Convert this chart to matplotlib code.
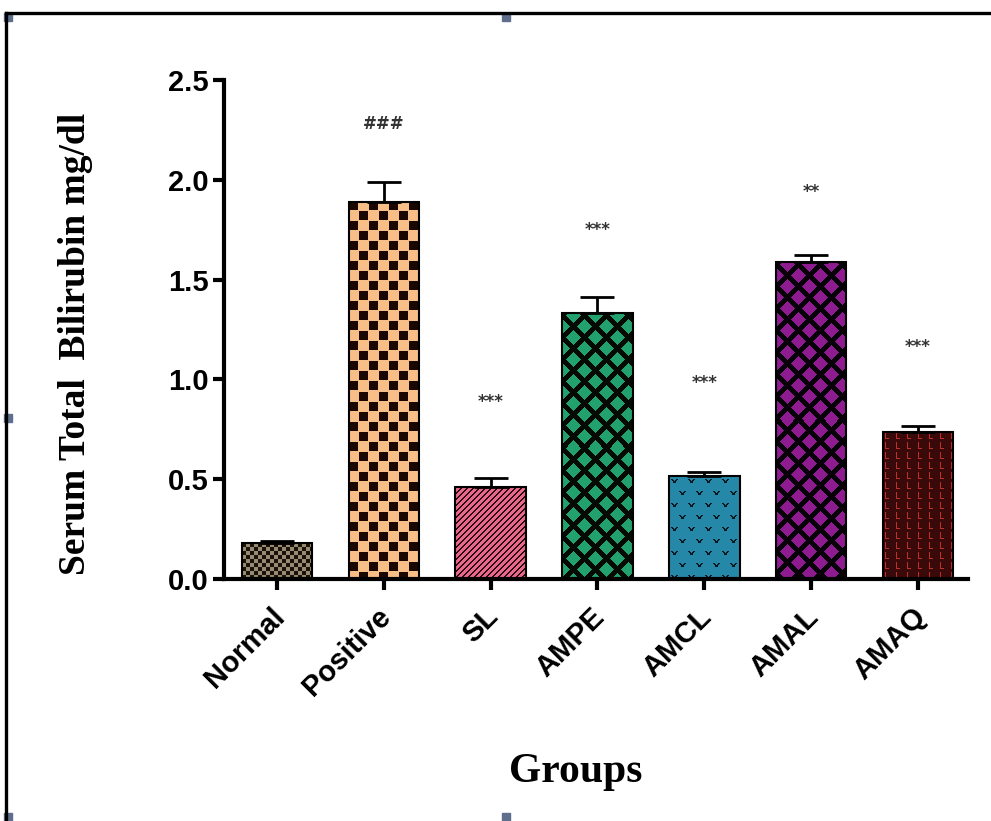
import numpy as np
import matplotlib
matplotlib.use('Agg')
import matplotlib.pyplot as plt
from matplotlib.colors import to_rgb
from matplotlib.lines import Line2D
from matplotlib.patches import Rectangle
from matplotlib.transforms import ScaledTranslation

# Values
groups = ['Normal', 'Positive', 'SL', 'AMPE', 'AMCL', 'AMAL', 'AMAQ']
means = [0.18, 1.89, 0.46, 1.335, 0.515, 1.59, 0.735]
sem = [0.01, 0.10, 0.045, 0.08, 0.02, 0.035, 0.03]
marks = ['', '###', '***', '***', '***', '**', '***']
mark_y = [0.0, 2.28, 0.885, 1.75, 0.98, 1.94, 1.16]
yticks = [0.0, 0.5, 1.0, 1.5, 2.0, 2.5]


# Small pixel tiles used as bar textures (the patterns in the original)
def checker(c, bg, fg, sq=None):
    sq = sq or c
    t = np.empty((2 * c, 2 * c, 3))
    t[:] = to_rgb(bg)
    t[:sq, :sq] = to_rgb(fg)
    t[c:c + sq, c:c + sq] = to_rgb(fg)
    return t


def stripes(p, w, bg, fg):
    i, j = np.mgrid[0:p, 0:p]
    t = np.empty((p, p, 3))
    t[:] = to_rgb(bg)
    t[(i + j) % p < w] = to_rgb(fg)
    return t


def diamonds(p, w, bg, fg):
    i, j = np.mgrid[0:p, 0:p]
    t = np.empty((p, p, 3))
    t[:] = to_rgb(bg)
    t[((i + j) % p < w) | ((i - j) % p < w)] = to_rgb(fg)
    return t


def vees(bg, fg):
    t = np.empty((24, 17, 3))
    t[:] = to_rgb(bg)
    for r0, c0 in [(3, 2), (15, 10)]:
        for r in range(4):
            for k in (0, 1):
                t[r0 + r, min(16, c0 + r + k)] = to_rgb(fg)
                t[r0 + r, max(0, c0 + 6 - r - k)] = to_rgb(fg)
    return t


def bricks(bg, fg):
    t = np.empty((10, 11, 3))
    t[:] = to_rgb(bg)
    t[0:6, 2] = to_rgb(fg)
    t[6, 2:6] = to_rgb(fg)
    return t


tiles = {
    'Normal': checker(4, '#978A72', '#1a1208'),
    'Positive': checker(10, '#F8BE88', '#1a0800', sq=9),
    'SL': stripes(6, 2, '#E8688C', '#2a0a10'),
    'AMPE': diamonds(22, 7, '#22A06E', '#050a05'),
    'AMCL': vees('#2688A8', '#041820'),
    'AMAL': diamonds(22, 7, '#8E1C90', '#080008'),
    'AMAQ': bricks('#3A0A0A', '#C0302A'),
}

fig = plt.figure(figsize=(9.91, 8.21), dpi=100)
ax = fig.add_axes([0.2260, 0.2948, 0.7508, 0.6078])

x = np.arange(len(groups))
ax.set_xlim(-0.496, 6.468)
ax.set_ylim(0, 2.5)

bars = ax.bar(x, means, width=0.66, facecolor='none', edgecolor='black',
              linewidth=1.5, zorder=3)

# fill each bar with its texture, clipped to the bar
for rect, name in zip(bars, groups):
    x0, w, h = rect.get_x(), rect.get_width(), rect.get_height()
    (p0x, p0y), (p1x, p1y) = ax.transData.transform([(x0, 0), (x0 + w, h)])
    nx = max(1, int(round(p1x - p0x)))
    ny = max(1, int(round(p1y - p0y)))
    tile = tiles[name]
    th, tw = tile.shape[:2]
    img = np.tile(tile, (ny // th + 1, nx // tw + 1, 1))[:ny, :nx]
    im = ax.imshow(img, extent=(x0, x0 + w, 0, h), aspect='auto',
                   interpolation='nearest', zorder=2)
    im.set_clip_path(rect)

ax.set_xlim(-0.496, 6.468)
ax.set_ylim(0, 2.5)

ax.errorbar(x, means, yerr=[np.zeros(len(sem)), sem], fmt='none',
            ecolor='black', elinewidth=2, capsize=12, capthick=2, zorder=4)

for xi, m, my in zip(x, marks, mark_y):
    if m:
        ax.text(xi, my, m, ha='center', va='center', fontsize=12,
                fontweight='bold', color='#333333', family='DejaVu Sans')

# axes styling
for s in ['top', 'right']:
    ax.spines[s].set_visible(False)
for s in ['left', 'bottom']:
    ax.spines[s].set_linewidth(3)
ax.set_yticks(yticks)
ax.set_yticklabels([f'{v:.1f}' for v in yticks], family='Liberation Sans',
                   fontsize=21, fontweight='bold')
ax.set_xticks(x)
ax.set_xticklabels(groups, rotation=45, ha='right', va='top',
                   rotation_mode='anchor', family='Liberation Sans',
                   fontsize=21, fontweight='bold')
ax.tick_params(axis='both', length=8, width=3, direction='out', pad=3)
shift = ScaledTranslation(-5 / 72, -6 / 72, fig.dpi_scale_trans)
for lab in ax.get_xticklabels():
    lab.set_transform(lab.get_transform() + shift)

ax.set_ylabel('Serum Total  Bilirubin mg/dl', family='Liberation Serif',
              fontweight='bold', fontsize=27, va='center')
ax.yaxis.set_label_coords(-0.2, 0.47)
ax.set_xlabel('Groups', family='Liberation Serif', fontweight='bold',
              fontsize=30, va='baseline')
ax.xaxis.set_label_coords(0.473, -0.407)

# frame of the pasted picture and its selection handles
fig.add_artist(Line2D([0.006, 1.0], [0.984, 0.984], color='black', lw=2.4))
fig.add_artist(Line2D([0.006, 0.006], [0.0, 0.984], color='black', lw=2.4))
for hx, hy in [(8, 17), (506, 17), (8, 418), (8, 817), (506, 817)]:
    fig.add_artist(Rectangle(((hx - 4) / 991, 1 - (hy + 4) / 821), 8 / 991, 8 / 821,
                             transform=fig.transFigure, color='#5F6E8C'))

fig.savefig('out.png', dpi=100)
